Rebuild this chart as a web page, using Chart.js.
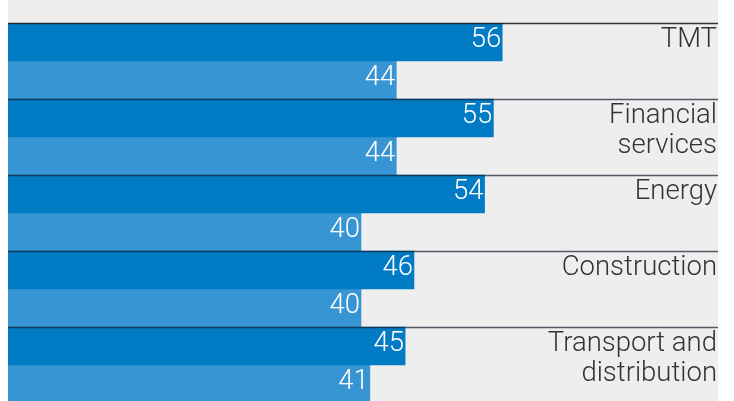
<!DOCTYPE html>
<html>
<head>
<meta charset="utf-8">
<script src="https://cdn.jsdelivr.net/npm/chart.js@4"></script>
<style>
  html, body { margin: 0; padding: 0; background: #fff; overflow: hidden; }
  #wrap { position: absolute; left: 0; top: 0; width: 734px; height: 403px; }
</style>
</head>
<body>
<div id="wrap"><canvas id="chart"></canvas></div>
<script>
// values
const categories = [['TMT'], ['Financial', 'services'], ['Energy'], ['Construction'], ['Transport and', 'distribution']];
const seriesA = [56, 55, 54, 46, 45];
const seriesB = [44, 44, 40, 40, 41];

const DARK = '#007bc4';
const LIGHT = '#3895d4';
const FONT = '300 27.5px Roboto, "Liberation Sans", sans-serif';

// grey panel behind the plot
const panelBg = {
  id: 'panelBg',
  beforeDraw(chart) {
    const { ctx, chartArea } = chart;
    ctx.save();
    ctx.fillStyle = '#eeeeee';
    ctx.fillRect(chartArea.left, 0, 718 - chartArea.left, chart.height);
    ctx.restore();
  }
};

// separators, category names and value labels
const overlay = {
  id: 'overlay',
  afterDatasetsDraw(chart) {
    const { ctx, chartArea } = chart;
    const y = chart.scales.y;
    const step = y.getPixelForValue(1) - y.getPixelForValue(0);
    ctx.save();

    // lines at the top of each category
    categories.forEach((c, i) => {
      const top = Math.round(y.getPixelForValue(i) - step / 2) + 0.5;
      ctx.strokeStyle = i === 0 ? 'rgba(25,30,35,0.9)' : 'rgba(20,35,50,0.72)';
      ctx.lineWidth = 1.5;
      ctx.beginPath();
      ctx.moveTo(chartArea.left, top);
      ctx.lineTo(718, top);
      ctx.stroke();
    });

    // values inside bar ends
    ctx.font = FONT;
    ctx.fillStyle = '#ffffff';
    ctx.textAlign = 'right';
    ctx.textBaseline = 'alphabetic';
    chart.data.datasets.forEach((ds, di) => {
      chart.getDatasetMeta(di).data.forEach((bar, i) => {
        ctx.fillText(String(ds.data[i]), bar.x - 1, bar.y + 5);
      });
    });

    // category names on the right
    ctx.fillStyle = '#333333';
    categories.forEach((lines, i) => {
      const top = y.getPixelForValue(i) - step / 2;
      lines.forEach((t, li) => {
        ctx.fillText(t, 717, top + 24 + li * 30);
      });
    });
    ctx.restore();
  }
};

new Chart(document.getElementById('chart'), {
  type: 'bar',
  data: {
    labels: categories.map(c => c.join(' ')),
    datasets: [
      { data: seriesA, backgroundColor: DARK, borderWidth: 0, categoryPercentage: 1, barPercentage: 1 },
      { data: seriesB, backgroundColor: LIGHT, borderWidth: 0, categoryPercentage: 1, barPercentage: 1 },
    ],
  },
  options: {
    indexAxis: 'y',
    responsive: true,
    maintainAspectRatio: false,
    animation: false,
    layout: { padding: { left: 8, right: 20, top: 23, bottom: 0 } },
    scales: {
      x: { display: false, min: 0, max: 80 },
      y: { display: false },
    },
    plugins: { legend: { display: false }, tooltip: { enabled: false } },
  },
  plugins: [panelBg, overlay],
});
</script>
</body>
</html>
